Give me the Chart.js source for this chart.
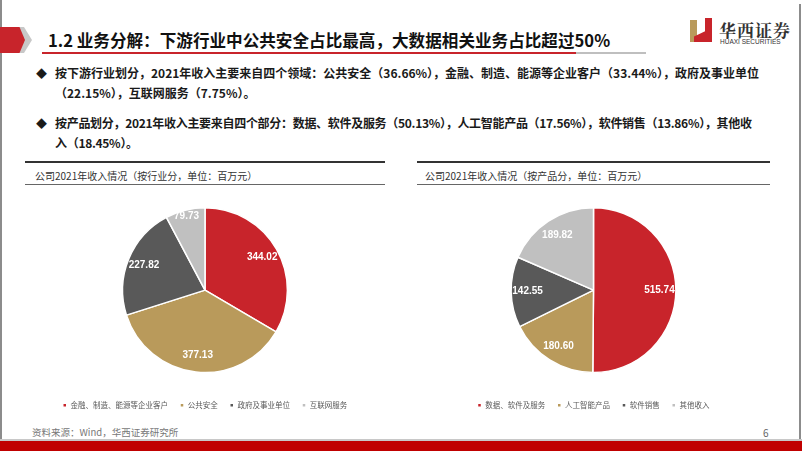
<!DOCTYPE html>
<html>
<head>
<meta charset="utf-8">
<script src="https://cdn.jsdelivr.net/npm/chart.js@4.4.1/dist/chart.umd.min.js"></script>
<style>
  body { margin: 0; background: #fff; font-family: "Noto Sans CJK SC", "Noto Sans", sans-serif; }
  #slide { position: relative; width: 802px; height: 451px; overflow: hidden; background: #fff; }
  .abs { position: absolute; }
  #title { left: 48px; top: 28px; font-size: 16.6px; font-weight: bold; color: #111; white-space: nowrap; }
  .bullet { left: 36px; font-size: 12px; font-weight: bold; color: #1a1a1a; line-height: 19px; white-space: nowrap; }
  .bullet span.d { display: inline-block; width: 19px; font-size: 11px; }
  .bullet .ind { padding-left: 19px; }
  .sec { font-size: 10px; color: #333; white-space: nowrap; }
  .chartbox { position: absolute; }
</style>
</head>
<body>
<div id="slide">
  <!-- frame -->
  <div class="abs" style="left:0;top:0;width:2px;height:440px;background:#8c8c8c"></div>
  <div class="abs" style="left:799px;top:4px;width:2px;height:436px;background:#8c8c8c"></div>
  <div class="abs" style="left:0;top:439px;width:802px;height:2px;background:#c8c8c8"></div>
  <div class="abs" style="left:0;top:441px;width:802px;height:10px;background:#c00000"></div>

  <!-- title tab -->
  <div class="abs" style="left:0;top:27px;width:32px;height:26px;background:#c8c8c8;clip-path:polygon(0 0,75% 0,100% 50%,75% 100%,0 100%)"></div>
  <div class="abs" style="left:0;top:27px;width:25px;height:26px;background:#c8242b;clip-path:polygon(0 0,78% 0,100% 50%,78% 100%,0 100%)"></div>
  <div id="title" class="abs">1.2 业务分解：下游行业中公共安全占比最高，大数据相关业务占比超过50%</div>
  <div class="abs" style="left:42px;top:52px;width:534px;height:2px;background:#c8242b"></div>
  <div class="abs" style="left:576px;top:52px;width:70px;height:2px;background:#bfbfbf"></div>

  <!-- logo -->
  <div class="abs" style="left:690px;top:20px;width:7px;height:22px;background:#b99a5b"></div>
  <div class="abs" style="left:694px;top:28px;width:18px;height:14px;background:#c8242b;clip-path:polygon(0 60%,100% 0,100% 100%,0 100%)"></div>
  <div class="abs" style="left:705px;top:18px;width:7px;height:24px;background:#c8242b"></div>
  <div class="abs" style="left:719px;top:17px;font-size:17px;font-weight:bold;color:#333;letter-spacing:1px;font-family:'Noto Serif CJK SC','Noto Sans CJK SC',serif">华西证券</div>
  <div class="abs" style="left:720px;top:38px;font-size:6.5px;color:#333;font-family:'Liberation Sans',sans-serif">HUAXI SECURITIES</div>

  <!-- bullets -->
  <div class="abs bullet" style="top:63px">
    <div><span class="d">◆</span>按下游行业划分，2021年收入主要来自四个领域：公共安全（36.66%），金融、制造、能源等企业客户（33.44%），政府及事业单位</div>
    <div class="ind">（22.15%），互联网服务（7.75%）。</div>
  </div>
  <div class="abs bullet" style="top:113px;letter-spacing:-0.3px">
    <div><span class="d">◆</span>按产品划分，2021年收入主要来自四个部分：数据、软件及服务（50.13%），人工智能产品（17.56%），软件销售（13.86%），其他收</div>
    <div class="ind">入（18.45%）。</div>
  </div>

  <!-- section headers -->
  <div class="abs" style="left:25px;top:161px;width:360px;height:1.5px;background:#333"></div>
  <div class="abs sec" style="left:35px;top:168px">公司2021年收入情况（按行业分，单位：百万元）</div>
  <div class="abs" style="left:25px;top:184px;width:360px;height:1px;background:#666"></div>

  <div class="abs" style="left:417px;top:161px;width:353px;height:1.5px;background:#333"></div>
  <div class="abs sec" style="left:425px;top:168px">公司2021年收入情况（按产品分，单位：百万元）</div>
  <div class="abs" style="left:417px;top:184px;width:353px;height:1px;background:#666"></div>

  <div class="chartbox" style="left:25px;top:200px;width:360px;height:221px"><canvas id="c1"></canvas></div>
  <div class="chartbox" style="left:417px;top:200px;width:353px;height:221px"><canvas id="c2"></canvas></div>

  <div class="abs" style="left:32px;top:425px;font-size:9.5px;color:#777">资料来源：Wind，华西证券研究所</div>
  <div class="abs" style="left:763px;top:425px;font-size:10px;color:#666">6</div>
</div>

<script>
// 按行业分
var industryLabels = ["金融、制造、能源等企业客户", "公共安全", "政府及事业单位", "互联网服务"];
var industryValues = [344.02, 377.13, 227.82, 79.73];
// 按产品分
var productLabels = ["数据、软件及服务", "人工智能产品", "软件销售", "其他收入"];
var productValues = [515.74, 180.60, 142.55, 189.82];

var sliceColors = ["#c8242b", "#b99a5b", "#595959", "#c0c0c0"];

// draw value labels on each slice
var sliceLabels = {
  id: 'sliceLabels',
  afterDatasetsDraw: function(chart) {
    var ctx = chart.ctx;
    var meta = chart.getDatasetMeta(0);
    var data = chart.data.datasets[0].data;
    ctx.save();
    ctx.font = "bold 10px 'Liberation Sans', Arial, sans-serif";
    ctx.fillStyle = "#fff";
    ctx.textAlign = "center";
    ctx.textBaseline = "middle";
    meta.data.forEach(function(arc, i) {
      var p = arc.getProps(['x', 'y', 'startAngle', 'endAngle', 'outerRadius'], true);
      var mid = (p.startAngle + p.endAngle) / 2;
      var span = p.endAngle - p.startAngle;
      var f = span < 0.6 ? 0.93 : 0.8;
      var x = p.x + Math.cos(mid) * p.outerRadius * f;
      var y = p.y + Math.sin(mid) * p.outerRadius * f;
      ctx.fillText(data[i].toFixed(2), x, y);
    });
    ctx.restore();
  }
};

function makePie(id, labels, values) {
  var ctx = document.getElementById(id).getContext('2d');
  return new Chart(ctx, {
    type: 'pie',
    data: {
      labels: labels,
      datasets: [{
        data: values,
        backgroundColor: sliceColors,
        borderColor: "#fff",
        borderWidth: 1.5
      }]
    },
    options: {
      responsive: true,
      maintainAspectRatio: false,
      animation: false,
      layout: { padding: { top: 7, bottom: 2 } },
      plugins: {
        tooltip: { enabled: false },
        legend: {
          position: 'bottom',
          // empty title just to push the legend items away from the pie
          title: { display: true, text: ' ', font: { size: 1 }, padding: { top: 0, bottom: 15 } },
          labels: {
            boxWidth: 4,
            boxHeight: 4,
            padding: 12,
            color: "#595959",
            font: { size: 7.5, family: "'Noto Sans CJK SC', sans-serif" }
          }
        }
      }
    },
    plugins: [sliceLabels]
  });
}

makePie('c1', industryLabels, industryValues);
makePie('c2', productLabels, productValues);
</script>
</body>
</html>
